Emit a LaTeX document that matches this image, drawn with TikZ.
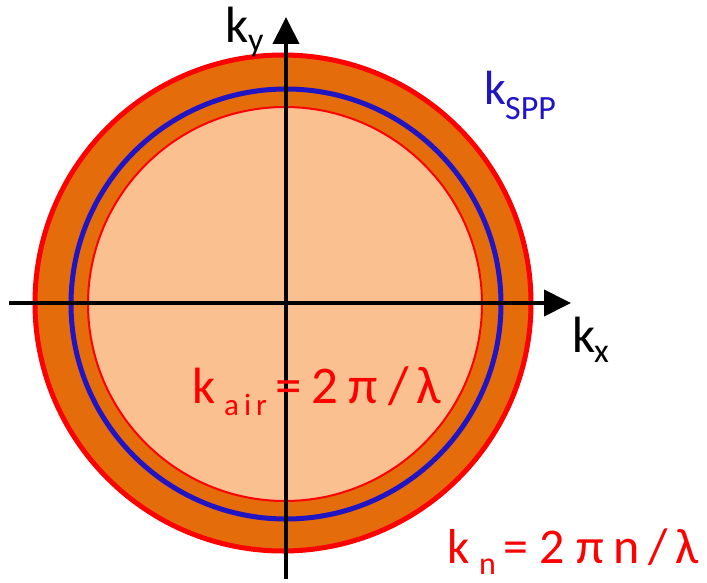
\documentclass[tikz,border=0pt]{standalone}
\usepackage{fontspec}
\setmainfont{Carlito}
\usetikzlibrary{arrows.meta}
\definecolor{ringorange}{RGB}{228,108,10}
\definecolor{lightfill}{RGB}{250,192,144}
\definecolor{sppblue}{RGB}{32,20,196}
\definecolor{pred}{RGB}{255,0,0}
\tikzset{
  axisline/.style={line width=4pt, -{Triangle[length=27pt,width=26pt]}},
  bigtxt/.style={inner sep=0pt, anchor=base west, font=\fontsize{51}{60}\selectfont},
  subtxt/.style={inner sep=0pt, anchor=base west, font=\fontsize{34}{40}\selectfont},
}
\begin{document}
\begin{tikzpicture}[x=1pt,y=-1pt]
\useasboundingbox (0,0) rectangle (707,583);
% circles
\fill[ringorange, draw=pred, line width=5pt] (283,303) circle[radius=248];
\draw[sppblue, line width=5pt] (286,304) circle[radius=215];
\fill[lightfill, draw=pred, line width=2pt] (285,304) circle[radius=197];
% axes
\coordinate (xs) at (9,303);
\coordinate (xe) at (571,303);
\coordinate (ys) at (286,579);
\coordinate (ye) at (286,17);
\draw[axisline] (xs) -- (xe);
\draw[axisline] (ys) -- (ye);
% labels
\node[bigtxt] (ky) at (225,43) {k};
\node[subtxt] (kysub) at (248,52) {y};
\node[bigtxt] (kx) at (572,352) {k};
\node[subtxt] (kxsub) at (594,362) {x};
\node[bigtxt, text=sppblue, font=\fontsize{48}{56}\selectfont] (kspp) at (484,105) {k};
\node[subtxt, text=sppblue] (ksppsub) at (505,120) {SPP};
\node[bigtxt, text=pred] (kair) at (192,403) {k};
\node[subtxt, text=pred, font=\fontsize{31}{36}\selectfont] (kairsub) at (224,415) {a\hspace{5pt}i\hspace{5pt}r};
\node[bigtxt, text=pred, font=\fontsize{53}{60}\selectfont] (kaireq) at (275,403) {=\hspace{10pt}2\hspace{10pt}π\hspace{11pt}/\hspace{7pt}λ};
\node[bigtxt, text=pred, font=\fontsize{49}{56}\selectfont] (kn) at (447,563) {k};
\node[subtxt, text=pred, font=\fontsize{32}{36}\selectfont] (knsub) at (479,574) {n};
\node[bigtxt, text=pred, font=\fontsize{50}{56}\selectfont] (kneq) at (503,563) {=\hspace{11pt}2\hspace{12pt}π\hspace{9pt}n\hspace{9pt}/\hspace{8pt}λ};
\end{tikzpicture}
\end{document}
